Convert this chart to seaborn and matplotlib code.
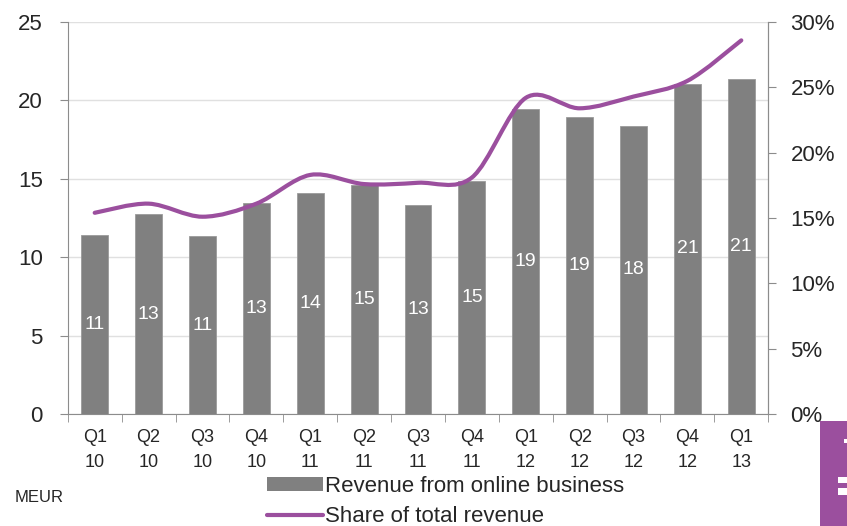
import numpy as np
import pandas as pd
import matplotlib.pyplot as plt
import seaborn as sns
from matplotlib.path import Path
from matplotlib.patches import PathPatch, Patch, Rectangle
from matplotlib.lines import Line2D
from matplotlib.ticker import FixedLocator

quarters = ['Q1\n10', 'Q2\n10', 'Q3\n10', 'Q4\n10', 'Q1\n11', 'Q2\n11', 'Q3\n11',
            'Q4\n11', 'Q1\n12', 'Q2\n12', 'Q3\n12', 'Q4\n12', 'Q1\n13']
revenue = [11.4, 12.75, 11.35, 13.45, 14.1, 14.6, 13.3, 14.85, 19.45, 18.95, 18.4, 21.05, 21.4]
share = [15.4, 16.1, 15.1, 16.1, 18.3, 17.6, 17.7, 18.1, 24.2, 23.4, 24.3, 25.5, 28.6]

bar_color = '#808080'
line_color = '#9B4F9E'
grey = '#8C8C8C'

sns.set_style('white')
plt.rcParams['font.family'] = ['Liberation Sans', 'DejaVu Sans']

df = pd.DataFrame({'quarter': quarters, 'revenue': revenue})

fig = plt.figure(figsize=(8.47, 5.26), dpi=100)
ax = fig.add_axes([0.080, 0.213, 0.827, 0.745])

sns.barplot(data=df, x='quarter', y='revenue', color=bar_color, width=0.5,
            saturation=1, ax=ax, edgecolor='#9a9a9a', linewidth=0.6, zorder=2)

ax.set_ylim(0, 25)
ax.set_xlim(-0.5, len(quarters) - 0.5)
ax.set_yticks(range(0, 26, 5))
ax.yaxis.grid(True, color='#E0E0E0', linewidth=1)
ax.set_axisbelow(True)
ax.set_xlabel('')
ax.set_ylabel('')
ax.tick_params(axis='y', labelsize=16, length=6, color=grey, left=True, pad=12)
ax.tick_params(axis='x', which='major', length=0, labelsize=13, pad=11)
for lbl in ax.get_xticklabels():
    lbl.set_linespacing(1.6)
ax.xaxis.set_minor_locator(FixedLocator(np.arange(-0.5, len(quarters), 1)))
ax.tick_params(axis='x', which='minor', length=6, color=grey, bottom=True)
for s in ['left', 'bottom', 'right']:
    ax.spines[s].set_color(grey)
ax.spines['top'].set_visible(False)

# value labels inside bars
for i, v in enumerate(revenue):
    ax.text(i, v / 2, f'{round(v):.0f}', color='white', ha='center', va='center', fontsize=14)

# share line on secondary axis, drawn smooth
ax2 = ax.twinx()
ax2.set_ylim(0, 30)
ax2.set_yticks(range(0, 31, 5))
ax2.set_yticklabels([f'{t}%' for t in range(0, 31, 5)])
ax2.tick_params(axis='y', labelsize=16, length=6, color=grey, right=True, pad=10)
for s in ['left', 'bottom', 'top']:
    ax2.spines[s].set_visible(False)
ax2.spines['right'].set_color(grey)

x = np.arange(len(share))
y = np.array(share)
verts = [(x[0], y[0])]
codes = [Path.MOVETO]
t = 0.16
for i in range(len(x) - 1):
    p0 = np.array([x[max(i - 1, 0)], y[max(i - 1, 0)]])
    p1 = np.array([x[i], y[i]])
    p2 = np.array([x[i + 1], y[i + 1]])
    p3 = np.array([x[min(i + 2, len(x) - 1)], y[min(i + 2, len(x) - 1)]])
    c1 = p1 + (p2 - p0) * t
    c2 = p2 - (p3 - p1) * t
    verts += [tuple(c1), tuple(c2), tuple(p2)]
    codes += [Path.CURVE4] * 3
ax2.add_patch(PathPatch(Path(verts, codes), facecolor='none', edgecolor=line_color,
                        linewidth=3, capstyle='round', zorder=3))

# legend
handles = [Patch(facecolor=bar_color, edgecolor='none'),
           Line2D([0], [0], color=line_color, linewidth=3)]
fig.legend(handles, ['Revenue from online business', 'Share of total revenue'],
           loc='lower left', bbox_to_anchor=(0.297, -0.032), frameon=False, fontsize=16,
           handlelength=2.5, handleheight=0.6, handletextpad=0.1, labelspacing=0.42,
           borderpad=0.2)

fig.text(0.017, 0.055, 'MEUR', fontsize=12, va='center')

# purple corner tab
fig.add_artist(Rectangle((0.968, 0.0), 0.032, 0.2, transform=fig.transFigure,
                         facecolor='#9B4F9E', edgecolor='none'))
fig.add_artist(Rectangle((0.989, 0.081), 0.02, 0.013, transform=fig.transFigure,
                         facecolor='white', edgecolor='none'))
fig.add_artist(Rectangle((0.989, 0.059), 0.02, 0.013, transform=fig.transFigure,
                         facecolor='white', edgecolor='none'))
fig.add_artist(Rectangle((0.996, 0.158), 0.01, 0.008, transform=fig.transFigure,
                         facecolor='white', edgecolor='none'))

fig.savefig('out.png', dpi=100)
